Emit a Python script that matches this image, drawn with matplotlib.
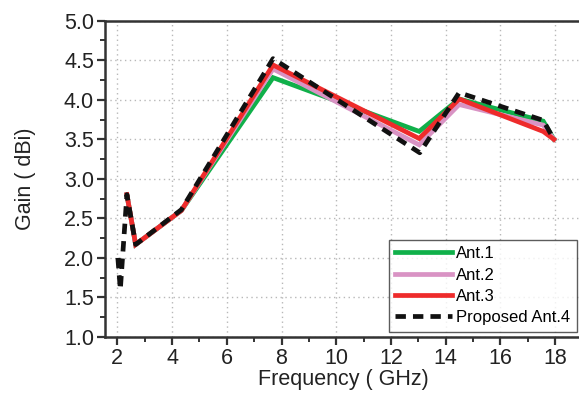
import matplotlib
matplotlib.use("Agg")
import matplotlib.pyplot as plt
from matplotlib.ticker import MultipleLocator

plt.rcParams['font.family'] = ['Liberation Sans', 'DejaVu Sans']

freq_ant = [2.35, 2.67, 4.34, 7.69, 13.03, 14.49, 17.56, 17.95]
gain_ant1 = [2.80, 2.17, 2.60, 4.28, 3.60, 4.01, 3.73, 3.50]
gain_ant2 = [2.80, 2.17, 2.60, 4.39, 3.43, 3.94, 3.68, 3.50]
gain_ant3 = [2.80, 2.17, 2.60, 4.44, 3.51, 4.01, 3.60, 3.50]
freq_ant4 = [2.02, 2.11, 2.35, 2.67, 4.34, 7.69, 13.05, 14.49, 17.56, 17.95]
gain_ant4 = [2.00, 1.60, 2.80, 2.17, 2.61, 4.52, 3.33, 4.09, 3.74, 3.50]

labels = ["Ant.1", "Ant.2", "Ant.3", "Proposed Ant.4"]
x_ticks = [2, 4, 6, 8, 10, 12, 14, 16, 18]
y_ticks = [1.0, 1.5, 2.0, 2.5, 3.0, 3.5, 4.0, 4.5, 5.0]

W, H = 579, 394
fig = plt.figure(figsize=(W / 100, H / 100), dpi=100)
x0, x1 = 105, 582.6
y0, y1 = 337, 20.7
ax = fig.add_axes([x0 / W, 1 - y0 / H, (x1 - x0) / W, (y0 - y1) / H])

ax.plot(freq_ant, gain_ant1, color='#10b04a', lw=3.4, label=labels[0], solid_joinstyle='miter')
ax.plot(freq_ant, gain_ant2, color='#d993c4', lw=3.4, label=labels[1], solid_joinstyle='miter')
ax.plot(freq_ant, gain_ant3, color='#ee2b2b', lw=3.4, label=labels[2], solid_joinstyle='miter')
ax.plot(freq_ant4, gain_ant4, color='#111111', lw=3.4, ls=(0, (2.2, 1.5)), label=labels[3])

ax.set_xlim(1.55, 19)
ax.set_ylim(1.0, 5.0)
ax.set_xticks(x_ticks)
ax.set_yticks(y_ticks)
ax.set_yticklabels([f"{v:.1f}" for v in y_ticks])
ax.xaxis.set_minor_locator(MultipleLocator(1))
ax.yaxis.set_minor_locator(MultipleLocator(0.25))
ax.tick_params(which='major', direction='out', length=6, width=1.6, labelsize=15.5,
               colors='#333333', labelcolor='#222222', pad=2)
ax.tick_params(which='minor', direction='out', length=3.5, width=1.4, colors='#333333')
ax.tick_params(axis='x', which='both', top=False)
ax.tick_params(axis='y', which='both', right=False)
for s in ax.spines.values():
    s.set_linewidth(1.8)
    s.set_color('#333333')

ax.grid(True, which='major', color='#b8b8b8', ls=(0, (1, 2.5)), lw=1.0)
ax.set_axisbelow(True)

ax.set_xlabel("Frequency ( GHz)", fontsize=15.5, color='#222222', labelpad=0)
ax.set_ylabel("Gain ( dBi)", fontsize=15.5, color='#222222', labelpad=20)

leg = ax.legend(loc='lower right', bbox_to_anchor=(0.988, 0.016), borderaxespad=0,
                fontsize=12, handlelength=3.4, handletextpad=0.25, labelspacing=0.38,
                frameon=True, fancybox=False, edgecolor='#333333', borderpad=0.4)
leg.get_frame().set_linewidth(1.0)

fig.savefig("out.png", dpi=100)
